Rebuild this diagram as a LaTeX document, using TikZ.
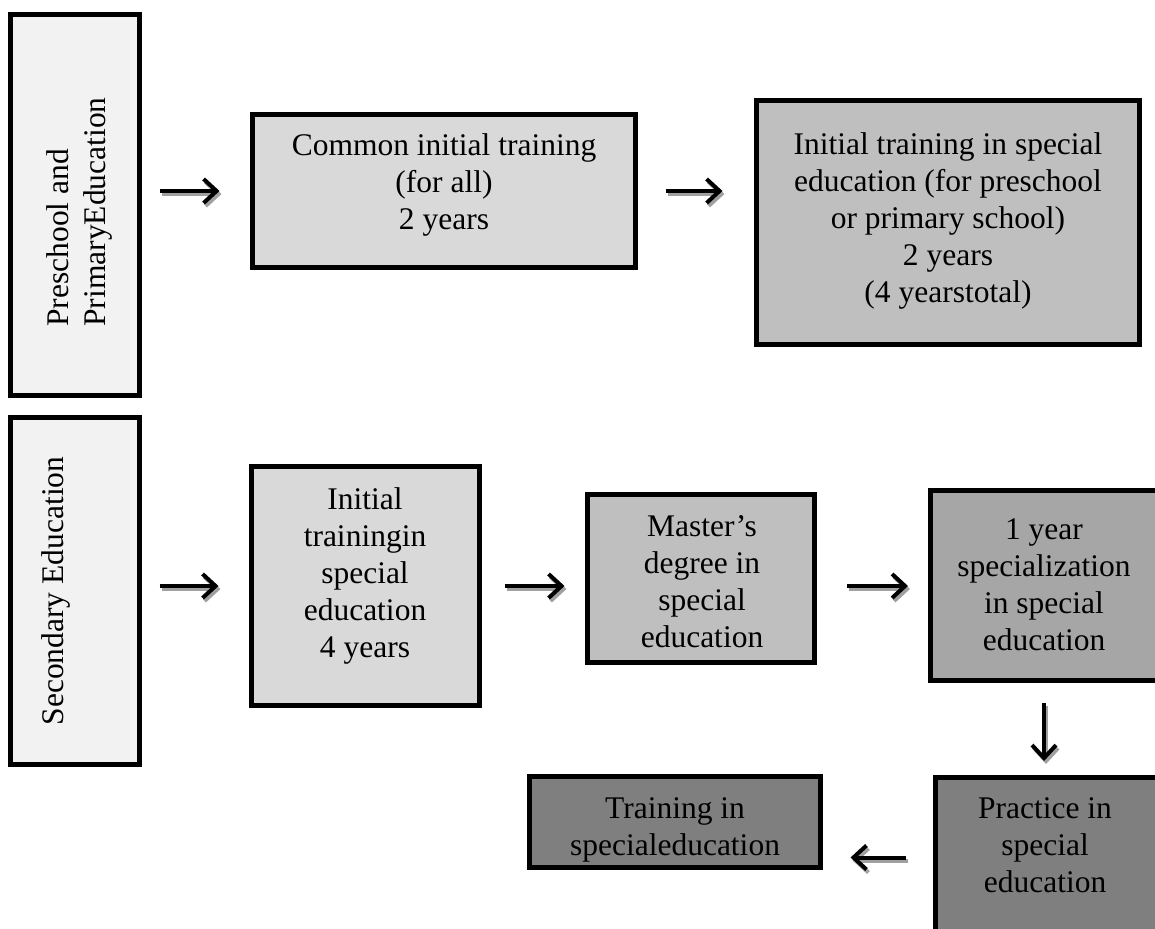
\documentclass[tikz,border=0pt]{standalone}
\usepackage{fontspec}
\setmainfont{Liberation Serif}
\usetikzlibrary{arrows.meta}
\definecolor{fillA}{HTML}{F2F2F2}
\definecolor{fillB}{HTML}{D9D9D9}
\definecolor{fillC}{HTML}{BFBFBF}
\definecolor{fillD}{HTML}{A6A6A6}
\definecolor{fillE}{HTML}{7F7F7F}
\definecolor{shadowgray}{HTML}{A0A0A0}
\tikzset{
  box/.style={draw=black, line width=5pt, rectangle, inner sep=0pt},
  lbl/.style={inner sep=0pt, align=center, font=\fontsize{31.5}{37}\selectfont, anchor=north},
  arrmain/.style={draw=black, line width=4pt, -{Straight Barb[length=13pt,width=24pt]}},
  arrshadow/.style={draw=shadowgray, line width=4pt, -{Straight Barb[length=13pt,width=24pt]}},
}
\newcommand\sharr[4]{%
  \draw[arrshadow, shorten <=#3, shorten >=#4, transform canvas={shift={(2pt,-3pt)}}] #1 -- #2;
  \draw[arrmain, shorten <=#3, shorten >=#4] #1 -- #2;}
\begin{document}
\begin{tikzpicture}[x=1pt,y=-1pt]
\useasboundingbox (0,0) rectangle (1155,928);
\clip (0,0) rectangle (1155,928);
% boxes
\node[box, fill=fillA, minimum width=129pt, minimum height=381pt] (b1) at (75,205) {};
\node[box, fill=fillA, minimum width=129pt, minimum height=347pt] (b2) at (75,591) {};
\node[box, fill=fillB, minimum width=383pt, minimum height=153pt] (b3) at (444,191) {};
\node[box, fill=fillC, minimum width=383pt, minimum height=244pt] (b4) at (948,222.5) {};
\node[box, fill=fillB, minimum width=228pt, minimum height=239pt] (b5) at (365.5,586) {};
\node[box, fill=fillC, minimum width=227pt, minimum height=168pt] (b6) at (701,578.5) {};
\node[box, fill=fillD, minimum width=227pt, minimum height=190pt] (b7) at (1044,585.5) {};
\node[box, fill=fillE, minimum width=291pt, minimum height=91pt] (b8) at (675,822) {};
\node[box, fill=fillE, minimum width=222pt, minimum height=160pt] (b9) at (1046.5,857.5) {};
% texts
\node[lbl, anchor=center, rotate=90, align=left] (t1) at (79,212) {Preschool and\\PrimaryEducation};
\node[lbl, anchor=center, rotate=90] (t2) at (56,591) {Secondary Education};
\node[lbl] (t3) at (444,133) {Common initial training\\(for all)\\2 years};
\node[lbl] (t4) at (948,132) {Initial training in special\\education (for preschool\\or primary school)\\2 years\\(4 yearstotal)};
\node[lbl] (t5) at (365,487) {Initial\\trainingin\\special\\education\\4 years};
\node[lbl] (t6) at (702,515) {Master’s\\degree in\\special\\education};
\node[lbl] (t7) at (1044,518) {1 year\\specialization\\in special\\education};
\node[lbl] (t8) at (675,797) {Training in\\specialeducation};
\node[lbl] (t9) at (1045,797) {Practice in\\special\\education};
% arrows
\sharr{(b1.east |- b3.center)}{(b3.west)}{17.5pt}{30.5pt}
\sharr{(b3.east)}{(b4.west |- b3.center)}{27.5pt}{31.5pt}
\sharr{(b2.east |- b5.center)}{(b5.west)}{17.5pt}{30.5pt}
\sharr{(b5.east)}{(b6.west |- b5.center)}{23pt}{20.5pt}
\sharr{(b6.east |- b5.center)}{(b7.west |- b5.center)}{30pt}{20pt}
\sharr{(b7.south)}{(b7.south |- b9.north)}{20pt}{14pt}
\sharr{(b9.west)}{(b9.west -| b8.east)}{27pt}{27.5pt}
\end{tikzpicture}
\end{document}
